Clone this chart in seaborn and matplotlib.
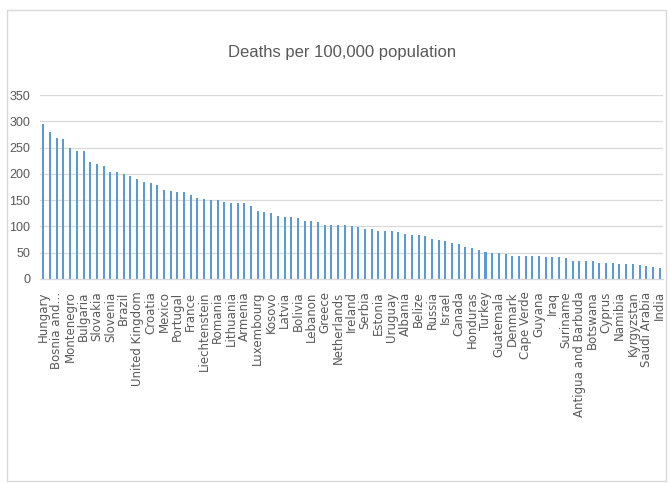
import matplotlib
matplotlib.use("Agg")
import matplotlib.pyplot as plt
import matplotlib.font_manager as fm
from matplotlib.patches import Rectangle
import pandas as pd
import seaborn as sns

# Countries ranked by deaths per 100,000 population
countries = [
    "Hungary", "Czechia", "Bosnia and Herzegovina", "San Marino", "Montenegro",
    "North Macedonia", "Bulgaria", "Belgium", "Slovakia", "Italy",
    "Slovenia", "Peru", "Brazil", "Poland", "United Kingdom",
    "Spain", "Croatia", "United States", "Mexico", "Moldova",
    "Portugal", "Colombia", "France", "Argentina", "Liechtenstein",
    "Sweden", "Romania", "Chile", "Lithuania", "Georgia",
    "Armenia", "Panama", "Luxembourg", "Andorra", "Kosovo",
    "Switzerland", "Latvia", "Austria", "Bolivia", "Ecuador",
    "Lebanon", "Paraguay", "Greece", "Germany", "Netherlands",
    "Monaco", "Ireland", "Ukraine", "Serbia", "Bahamas",
    "Estonia", "South Africa", "Uruguay", "Costa Rica", "Albania",
    "Tunisia", "Belize", "Iran", "Russia", "Jordan",
    "Israel", "Malta", "Canada", "Saint Lucia", "Honduras",
    "Azerbaijan", "Turkey", "Belarus", "Guatemala", "Dominican Republic",
    "Denmark", "Kazakhstan", "Cape Verde", "Barbados", "Guyana",
    "Philippines", "Iraq", "Libya", "Suriname", "Indonesia",
    "Antigua and Barbuda", "Egypt", "Botswana", "Finland", "Cyprus",
    "Trinidad and Tobago", "Namibia", "Norway", "Kyrgyzstan", "Morocco",
    "Saudi Arabia", "Jamaica", "India",
]

deaths_per_100k = [
    294, 279, 268, 267, 250, 244, 244, 222, 219, 214,
    204, 204, 199, 195, 191, 184, 183, 178, 170, 168,
    165, 165, 160, 155, 152, 151, 150, 147, 145, 145,
    145, 138, 129, 127, 125, 120, 117, 117, 116, 111,
    111, 108, 103, 103, 102, 102, 100, 98, 96, 96,
    91, 91, 91, 90, 86, 84, 83, 82, 77, 74,
    73, 68, 67, 60, 59, 56, 51, 50, 49, 47,
    44, 44, 44, 44, 44, 41, 41, 41, 39, 35,
    35, 34, 34, 31, 31, 30, 29, 29, 28, 27,
    24, 22, 21,
]

y_ticks = [0, 50, 100, 150, 200, 250, 300, 350]
title = "Deaths per 100,000 population"

df = pd.DataFrame({"country": countries, "deaths": deaths_per_100k})

sns.set_style("white")
available = {f.name for f in fm.fontManager.ttflist}
narrow = "Liberation Sans Narrow" if "Liberation Sans Narrow" in available else "Liberation Sans"
plt.rcParams["font.family"] = ["DejaVu Sans"]

text_grey = "#595959"
grid_grey = "#D9D9D9"
bar_blue = "#5B9BD5"

fig = plt.figure(figsize=(6.7, 4.83), dpi=100)
fig.patch.set_facecolor("white")
ax = fig.add_axes([0.0597, 0.4224, 0.9299, 0.3809])

sns.barplot(data=df, x="country", y="deaths", color=bar_blue, saturation=1,
            width=0.3, ax=ax, errorbar=None, linewidth=0)
for bar in ax.patches:
    bar.set_antialiased(False)

ax.set_ylim(0, 350)
ax.set_xlim(-0.5, len(countries) - 0.5)
ax.set_yticks(y_ticks)
ax.set_yticklabels([str(v) for v in y_ticks], fontfamily=narrow,
                   fontsize=9, color=text_grey)
ax.yaxis.grid(True, color=grid_grey, linewidth=0.9)
ax.set_axisbelow(True)

# Every second category is labelled; long names are shortened
def short(name, limit=20):
    return name if len(name) <= limit else name[:10] + "…"

label_pos = list(range(0, len(countries), 2))
ax.set_xticks(label_pos)
ax.set_xticklabels([short(countries[i]) for i in label_pos], rotation=90,
                   fontsize=8.5, color=text_grey, ha="center", va="top")
ax.tick_params(axis="x", length=0, pad=9)
ax.tick_params(axis="y", length=0, pad=7)

for side in ["top", "right", "left"]:
    ax.spines[side].set_visible(False)
ax.spines["bottom"].set_color(grid_grey)
ax.spines["bottom"].set_linewidth(0.9)
ax.set_xlabel("")
ax.set_ylabel("")

fig.text(0.51, 0.892, title, ha="center", va="center", fontfamily=narrow,
         fontsize=12, color=text_grey)

# Chart area border
fig.patches.append(Rectangle((0.0104, 0.0041), 0.9836, 0.975, transform=fig.transFigure,
                             fill=False, edgecolor=grid_grey, linewidth=1.0))

fig.savefig("out.png", dpi=100, facecolor="white")
